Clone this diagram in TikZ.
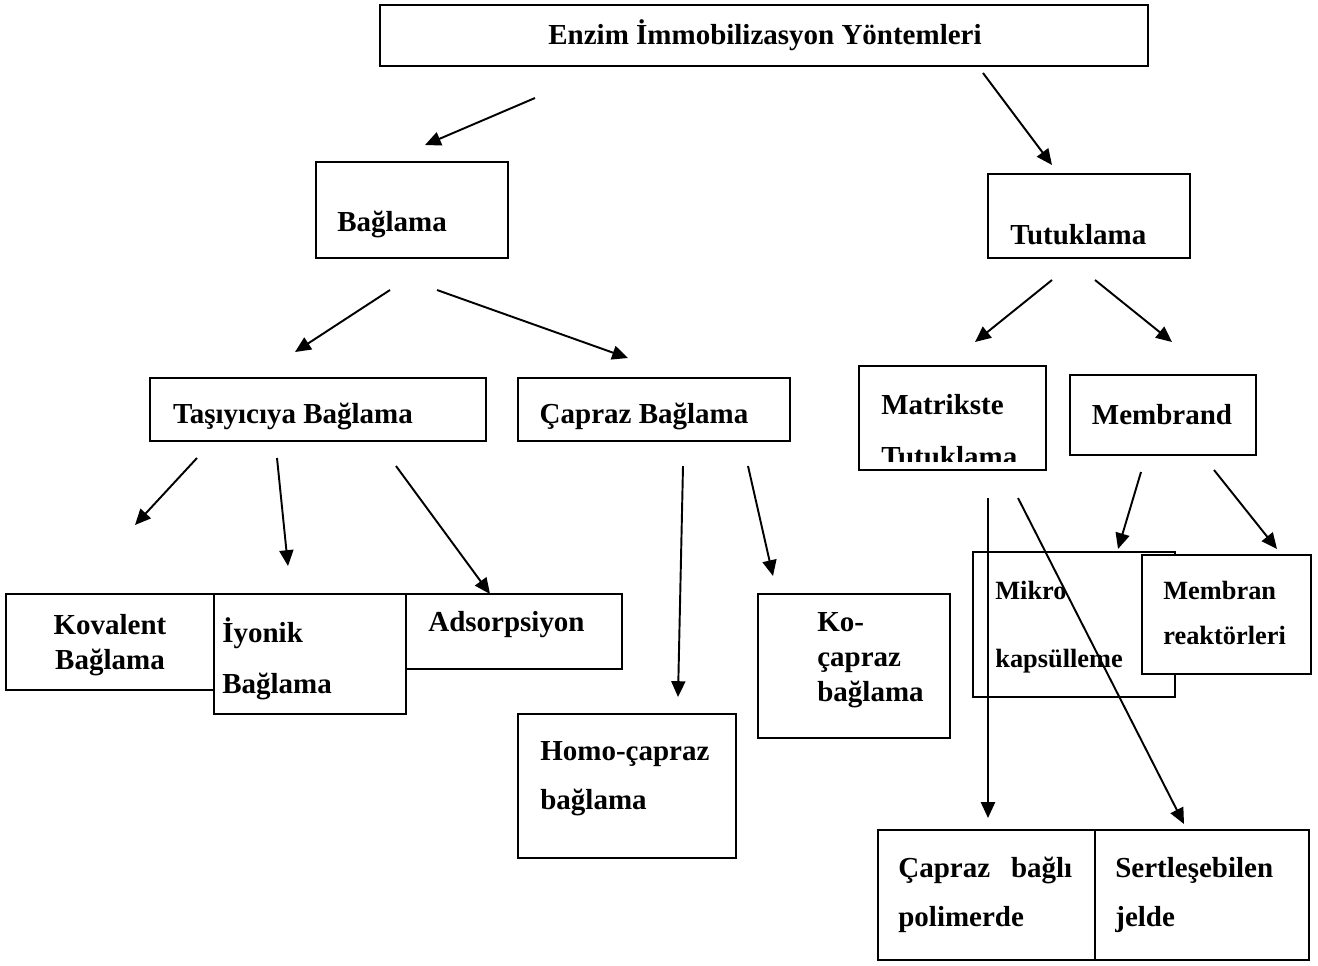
\documentclass[tikz,border=0pt]{standalone}
\usepackage{fontspec}
\setmainfont{Liberation Serif}
\usetikzlibrary{positioning,fit,arrows.meta}
\tikzset{
  box/.style={draw, fill=white, line width=1.1pt, inner sep=0pt},
  lbl/.style={font=\fontsize{16.5}{20}\selectfont\bfseries, inner sep=0pt, align=left},
  lblsm/.style={font=\fontsize{15}{18}\selectfont\bfseries, inner sep=0pt, align=left},
  arr/.style={line width=1.1pt, -{Triangle[length=9pt,width=8pt]}}
}
\begin{document}
\begin{tikzpicture}[x=0.02cm,y=-0.02cm]
      \useasboundingbox (0,0) rectangle (1318,965);
      % first level
      \node[box, fit={(380,5) (1148,66)}] (enzim) {};
      \node[lbl] (enzimT) at (765,35) {Enzim İmmobilizasyon Yöntemleri};
      \node[box, fit={(316,162) (508,258)}] (bag) {};
      \node[lbl, anchor=west] (bagT) at (337,224) {Bağlama};
      \node[box, fit={(988,174) (1190,258)}] (tut) {};
      \node[lbl, anchor=west] (tutT) at (1010,235) {Tutuklama};
      % second level
      \node[box, fit={(150,378) (486,441)}] (tas) {};
      \node[lbl] (tasT) at (293,416) {Taşıyıcıya Bağlama};
      \node[box, fit={(518,378) (790,441)}] (cap) {};
      \node[lbl] (capT) at (644,416) {Çapraz Bağlama};
      \node[box, fit={(859,366) (1046,470)}] (mat) {};
      \begin{scope}
        \clip (861,368) rectangle (1044,461);
        \node[lbl, anchor=west] (matT) at (881,431) {Matrikste\\[9.5pt]Tutuklama};
      \end{scope}
      \node[box, fit={(1070,375) (1256,455)}] (mem) {};
      \node[lbl] (memT) at (1162,415) {Membrand};
      % third level
      \node[box, fit={(6,594) (215,690)}] (kov) {};
      \node[lbl, align=center] (kovT) at (110,645) {Kovalent\\Bağlama};
      \node[box, fit={(214,594) (406,714)}] (iyo) {};
      \node[lbl, anchor=west] (iyoT) at (222,659) {İyonik\\[9pt]Bağlama};
      \node[box, fit={(406,594) (622,669)}] (ads) {};
      \node[lbl, anchor=west] (adsT) at (428,625) {Adsorpsiyon};
      \node[box, fit={(518,714) (736,858)}] (homo) {};
      \node[lbl, anchor=west] (homoT) at (540,779) {Homo-çapraz\\[8pt]bağlama};
      \node[box, fit={(758,594) (950,738)}] (ko) {};
      \node[lbl, anchor=west] (koT) at (817,660) {Ko-\\çapraz\\bağlama};
      \node[box, fit={(973,552) (1175,697)}] (mik) {};
      \node[lblsm, anchor=west] (mikT) at (995,627) {Mikro\\[21pt]kapsülleme};
      \node[box, fit={(1142,555) (1311,674)}] (mre) {};
      \node[lblsm, anchor=west] (mreT) at (1163,613) {Membran\\[8pt]reaktörleri};
      \node[box, fit={(878,830) (1095,960)}] (pol) {};
      \node[lbl, anchor=west] (polT) at (898,895) {\hbox to 99pt{Çapraz\hfill bağlı}\\[8pt]polimerde};
      \node[box, fit={(1095,830) (1309,960)}] (jel) {};
      \node[lbl, anchor=west] (jelT) at (1115,895) {Sertleşebilen\\[8pt]jelde};
      % arrows
      \foreach \n/\xa/\ya/\xb/\yb in {a/535/98/425/145, b/983/73/1052/165,
          c/390/290/295/352, d/437/290/628/358, e/1052/280/975/342, f/1095/280/1172/342,
          g/197/458/135/525, h/277/458/288/566, i/396/466/490/594,
          j/683/466/678/697, k/748/466/773/576,
          l/1141/472/1118/549, m/1214/470/1277/549,
          n/988/498/988/818, o/1018/498/1184/824} {
        \coordinate (\n s) at (\xa,\ya);
        \coordinate (\n e) at (\xb,\yb);
        \draw[arr] (\n s) -- (\n e);
      }
\end{tikzpicture}
\end{document}
